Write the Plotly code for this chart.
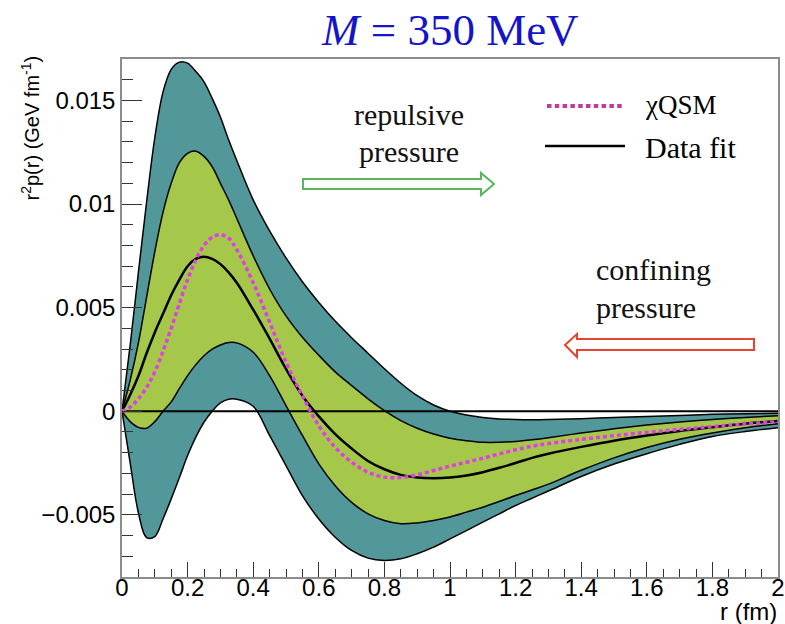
import numpy as np
import plotly.graph_objects as go

# ---------------- data (values in units of 1e-3 GeV fm^-1) ----------------
r = [0, 0.025, 0.05, 0.075, 0.1, 0.125, 0.15, 0.175, 0.2, 0.225, 0.25, 0.275, 0.3, 0.325, 0.35,
     0.4, 0.45, 0.5, 0.55, 0.6, 0.65, 0.7, 0.75, 0.8, 0.85, 0.9, 0.95, 1.0, 1.05, 1.1, 1.15, 1.2, 1.25, 1.3,
     1.4, 1.5, 1.6, 1.7, 1.8, 1.9, 2.0]

outer_upper = [0, 3.2, 6.7, 10.1, 13.2, 15.4, 16.5, 16.85, 16.8, 16.4, 15.9, 15.1, 14.2, 13.1, 12.1,
               10.2, 8.7, 7.4, 6.25, 5.25, 4.35, 3.55, 2.8, 2.05, 1.35, 0.75, 0.3, 0.0, -0.18, -0.3, -0.37, -0.4, -0.41, -0.4,
               -0.36, -0.3, -0.25, -0.2, -0.15, -0.12, -0.1]
inner_upper = [0, 1.5, 3.3, 5.5, 7.7, 9.6, 11.0, 12.0, 12.45, 12.55, 12.3, 11.8, 11.0, 10.2, 9.3,
               7.5, 5.9, 4.6, 3.57, 2.7, 1.9, 1.24, 0.6, 0.03, -0.45, -0.82, -1.1, -1.3, -1.42, -1.5, -1.5, -1.46, -1.38, -1.28,
               -1.05, -0.85, -0.67, -0.52, -0.4, -0.3, -0.22]
data_fit = [0, 0.8, 1.7, 2.8, 3.8, 4.7, 5.6, 6.35, 7.0, 7.35, 7.46, 7.35, 7.1, 6.7, 6.2,
            4.9, 3.5, 2.04, 0.75, -0.25, -1.1, -1.8, -2.4, -2.8, -3.07, -3.2, -3.23, -3.2, -3.1, -2.94, -2.73, -2.5, -2.25, -2.05,
            -1.72, -1.42, -1.17, -0.95, -0.77, -0.6, -0.47]
chiqsm = [0, 0.2, 0.6, 1.15, 1.9, 2.9, 4.0, 5.2, 6.35, 7.3, 8.0, 8.4, 8.52, 8.35, 7.8,
          6.2, 4.3, 2.36, 0.75, -0.7, -1.74, -2.46, -2.94, -3.18, -3.2, -3.07, -2.86, -2.65, -2.46, -2.27, -2.06, -1.86, -1.69, -1.56,
          -1.36, -1.18, -1.02, -0.88, -0.74, -0.62, -0.5]
inner_lower = [0, -0.5, -0.78, -0.82, -0.5, 0.0, 0.45, 1.1, 1.72, 2.25, 2.68, 3.0, 3.2, 3.32, 3.3,
               2.85, 1.72, 0.27, -1.17, -2.54, -3.6, -4.4, -4.95, -5.27, -5.43, -5.39, -5.27, -5.1, -4.87, -4.63, -4.36, -4.07, -3.8, -3.52,
               -2.85, -2.25, -1.75, -1.35, -1.05, -0.8, -0.6]
outer_lower = [0, -2.5, -4.9, -6.1, -6.05, -5.2, -4.23, -3.2, -2.14, -1.25, -0.53, 0.0, 0.4, 0.58, 0.58,
               0.24, -1.17, -2.62, -4.07, -5.2, -6.08, -6.72, -7.09, -7.2, -7.12, -6.88, -6.56, -6.16, -5.76, -5.35, -4.95, -4.55, -4.2, -3.85,
               -3.15, -2.55, -2.05, -1.6, -1.22, -0.98, -0.8]

x_ticks = [0, 0.2, 0.4, 0.6, 0.8, 1.0, 1.2, 1.4, 1.6, 1.8, 2.0]
x_ticktext = ["0", "0.2", "0.4", "0.6", "0.8", "1", "1.2", "1.4", "1.6", "1.8", "2"]
y_ticks = [-0.005, 0, 0.005, 0.01, 0.015]
y_ticktext = ["\u22120.005", "0", "0.005", "0.01", "0.015"]

SCALE = 1e-3
def s(v):
    return (np.array(v) * SCALE).tolist()

# ---------------- layout geometry ----------------
W, H = 785, 624
L, R, T, B = 122, 7, 59, 47
PW, PH = W - L - R, H - T - B

def px(xp):
    return (xp - L) / PW

def py(yp):
    return (H - B - yp) / PH

TEAL = "#52979A"
GREEN = "#A5C84A"
MAGENTA = "#E23FE2"

fig = go.Figure()
line_black = dict(color="black", width=1.5, shape="spline")

fig.add_trace(go.Scatter(x=r, y=s(outer_lower), mode="lines", line=line_black, hoverinfo="skip"))
fig.add_trace(go.Scatter(x=r, y=s(outer_upper), mode="lines", line=line_black, fill="tonexty",
                         fillcolor=TEAL, hoverinfo="skip"))
fig.add_trace(go.Scatter(x=r, y=s(inner_lower), mode="lines", line=line_black, hoverinfo="skip"))
fig.add_trace(go.Scatter(x=r, y=s(inner_upper), mode="lines", line=line_black, fill="tonexty",
                         fillcolor=GREEN, hoverinfo="skip"))
fig.add_trace(go.Scatter(x=[0, 2], y=[0, 0], mode="lines", line=dict(color="black", width=2), hoverinfo="skip"))
fig.add_trace(go.Scatter(x=r, y=s(data_fit), mode="lines", name="Data fit",
                         line=dict(color="black", width=2.5, shape="spline"), hoverinfo="skip"))
fig.add_trace(go.Scatter(x=r, y=s(chiqsm), mode="lines", name="\u03c7QSM",
                         line=dict(color=MAGENTA, width=3.5, shape="spline", dash="4px,3px"), hoverinfo="skip"))

axis_font = dict(family="Liberation Sans, Arial, sans-serif", size=24, color="black")
fig.update_xaxes(range=[0, 2], tickvals=x_ticks, ticktext=x_ticktext, ticks="inside", ticklen=15,
                 tickcolor="#333", tickwidth=1, showgrid=False, zeroline=False, showline=True,
                 linecolor="#8c8c8c", linewidth=1.5, mirror=True, tickfont=axis_font, automargin=False,
                 ticklabelstandoff=-12,
                 minor=dict(ticks="inside", ticklen=8, dtick=0.05, tick0=0, tickcolor="#333", showgrid=False))
fig.update_yaxes(range=[-0.008, 0.017], tickvals=y_ticks, ticktext=y_ticktext, ticks="inside", ticklen=20,
                 tickcolor="#333", tickwidth=1, showgrid=False, zeroline=False, showline=True,
                 linecolor="#8c8c8c", linewidth=1.5, mirror=True, tickfont=axis_font, automargin=False,
                 minor=dict(ticks="inside", ticklen=11, dtick=0.001, tick0=0, tickcolor="#333", showgrid=False))

serif = "Liberation Serif, Times New Roman, serif"
annotations = [
    dict(text="<i>M</i> = 350 MeV", x=px(450), y=py(30), xref="paper", yref="paper", showarrow=False,
         xanchor="center", yanchor="middle", font=dict(family=serif, size=45, color="#1414C8")),
    dict(text="r<sup>2</sup>p(r) (GeV fm<sup>-1</sup>)", x=px(30), y=py(53), xref="paper", yref="paper",
         showarrow=False, textangle=-90, xanchor="center", yanchor="top",
         font=dict(family="Liberation Sans, Arial, sans-serif", size=20, color="black")),
    dict(text="r (fm)", x=px(779), y=py(611), xref="paper", yref="paper", showarrow=False,
         xanchor="right", yanchor="middle", font=axis_font),
    dict(text="repulsive", x=px(409), y=py(114), xref="paper", yref="paper", showarrow=False,
         xanchor="center", yanchor="middle", font=dict(family=serif, size=30, color="#111")),
    dict(text="pressure", x=px(409), y=py(151), xref="paper", yref="paper", showarrow=False,
         xanchor="center", yanchor="middle", font=dict(family=serif, size=30, color="#111")),
    dict(text="confining", x=px(594), y=py(269), xref="paper", yref="paper", showarrow=False,
         xanchor="left", yanchor="middle", font=dict(family=serif, size=30, color="#111")),
    dict(text="pressure", x=px(594), y=py(307), xref="paper", yref="paper", showarrow=False,
         xanchor="left", yanchor="middle", font=dict(family=serif, size=30, color="#111")),
    dict(text="\u03c7QSM", x=px(643), y=py(105), xref="paper", yref="paper", showarrow=False,
         xanchor="left", yanchor="middle", font=dict(family=serif, size=27, color="black")),
    dict(text="Data fit", x=px(643), y=py(147), xref="paper", yref="paper", showarrow=False,
         xanchor="left", yanchor="middle", font=dict(family=serif, size=30, color="black")),
]

def path(points):
    return "M " + " L ".join(f"{px(a):.5f},{py(b):.5f}" for a, b in points) + " Z"

green_arrow = [(303, 179), (481, 179), (481, 173), (494, 184), (481, 195), (481, 189), (303, 189)]
red_arrow = [(754, 339), (577, 339), (577, 334), (565, 345), (577, 357), (577, 350), (754, 350)]

shapes = [
    dict(type="path", xref="paper", yref="paper", path=path(green_arrow),
         line=dict(color="#5BB55B", width=2), fillcolor="white"),
    dict(type="path", xref="paper", yref="paper", path=path(red_arrow),
         line=dict(color="#E8432E", width=2), fillcolor="white"),
    dict(type="line", xref="paper", yref="paper", x0=px(547), x1=px(625), y0=py(106), y1=py(106),
         line=dict(color="#C03C9A", width=4, dash="4.5px,3.3px")),
    dict(type="line", xref="paper", yref="paper", x0=px(545), x1=px(625), y0=py(146), y1=py(146),
         line=dict(color="black", width=2.5)),
]

fig.update_layout(width=W, height=H, margin=dict(l=L, r=R, t=T, b=B, autoexpand=False), paper_bgcolor="white",
                  plot_bgcolor="white", showlegend=False, annotations=annotations, shapes=shapes,
                  hovermode=False)

fig.write_html("out.html", config={"displayModeBar": False},
               post_script="document.body.style.margin='0px';document.body.style.overflow='hidden';")
